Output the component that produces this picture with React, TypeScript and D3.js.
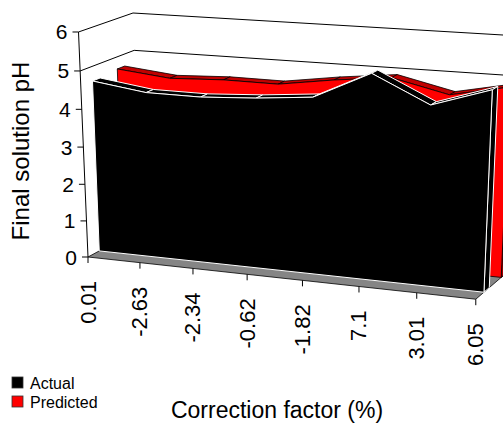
import React from "react";
import * as d3 from "d3";

// ---------- data ----------
const categories = ["0.01", "-2.63", "-2.34", "-0.62", "-1.82", "7.1", "3.01", "6.05"];
const actual = [4.62, 4.42, 4.41, 4.49, 4.62, 5.32, 4.64, 5.12];
const predicted = [4.68, 4.53, 4.59, 4.58, 4.79, 4.95, 4.62, 4.92];
const yTicks = [0, 1, 2, 3, 4, 5, 6];
const gridValues = [5, 6];
const seriesNames = ["Actual", "Predicted"];

// ---------- layout: 3D perspective (vanishing points) ----------
const W = 503;
const H = 424;
const ORIGIN: [number, number] = [88, 257];
const VPX: [number, number, number] = [-4905, -286.5, -0.07207];
const VPY: [number, number, number] = [289, 5021, -0.0451];
const VPZ: [number, number, number] = [1271.6, -383.6, 0.0457];

function col(vp: [number, number, number]) {
  return [vp[0] * vp[2], vp[1] * vp[2], vp[2]];
}
const cX = col(VPX);
const cY = col(VPY);
const cZ = col(VPZ);

function project(X: number, Y: number, Z: number): [number, number] {
  const hx = ORIGIN[0] + X * cX[0] + Y * cY[0] + Z * cZ[0];
  const hy = ORIGIN[1] + X * cX[1] + Y * cY[1] + Z * cZ[1];
  const hw = 1 + X * cX[2] + Y * cY[2] + Z * cZ[2];
  return [hx / hw, hy / hw];
}

const xScale = d3.scalePoint<string>().domain(categories).range([0, 1]);
const yScale = d3.scaleLinear().domain([0, 6]).range([0, 1]);

const line = d3.line<[number, number]>();
const poly = (pts: [number, number][]) => line(pts) + "Z";

type SeriesStyle = {
  z0: number;
  z1: number;
  front: string;
  top: string;
  side: string;
  stroke: string;
  sw: number;
};

function Series({ values, st }: { values: number[]; st: SeriesStyle }) {
  const X = categories.map((c) => xScale(c) as number);
  const Y = values.map((v) => yScale(v));
  const n = values.length;
  const tops = [];
  for (let i = 0; i < n - 1; i++) {
    tops.push(
      poly([
        project(X[i], Y[i], st.z0),
        project(X[i + 1], Y[i + 1], st.z0),
        project(X[i + 1], Y[i + 1], st.z1),
        project(X[i], Y[i], st.z1),
      ])
    );
  }
  const cap = poly([
    project(X[n - 1], 0, st.z0),
    project(X[n - 1], Y[n - 1], st.z0),
    project(X[n - 1], Y[n - 1], st.z1),
    project(X[n - 1], 0, st.z1),
  ]);
  const frontPts: [number, number][] = X.map((x, i) => project(x, Y[i], st.z0));
  frontPts.push(project(X[n - 1], 0, st.z0));
  frontPts.push(project(X[0], 0, st.z0));
  return (
    <g stroke={st.stroke} strokeWidth={st.sw} strokeLinejoin="round">
      {tops.map((d, i) => (
        <path key={i} d={d} fill={st.top} />
      ))}
      <path d={cap} fill={st.side} />
      <path d={poly(frontPts)} fill={st.front} />
    </g>
  );
}

export default function App() {
  const font = "'Liberation Sans', Arial, sans-serif";
  const backWall = poly([project(0, 0, 1), project(1, 0, 1), project(1, 1, 1), project(0, 1, 1)]);
  const leftWall = poly([project(0, 0, 0), project(0, 0, 1), project(0, 1, 1), project(0, 1, 0)]);
  const floor = poly([project(0, 0, 0), project(1, 0, 0), project(1, 0, 1), project(0, 0, 1)]);
  const yAxis0 = project(0, 0, 0);
  const yAxis1 = project(0, 1, 0);

  return (
    <svg
      width={W}
      height={H}
      style={{ position: "absolute", left: 0, top: 0, background: "#fff" }}
      fontFamily={font}
    >
      {/* walls */}
      <path d={backWall} fill="#fff" />
      <path d={leftWall} fill="#fff" />
      {gridValues.map((v) => {
        const y = yScale(v);
        return (
          <path
            key={v}
            d={line([project(0, y, 0), project(0, y, 1), project(1, y, 1)]) || ""}
            fill="none"
            stroke="#000"
            strokeWidth={1}
          />
        );
      })}
      {/* floor */}
      <path d={floor} fill="#858585" stroke="#000" strokeWidth={0.8} />

      {/* series: back first */}
      <Series
        values={predicted}
        st={{ z0: 0.67, z1: 0.81, front: "#ff0000", top: "#c00000", side: "#a00000", stroke: "#000", sw: 0.8 }}
      />
      <Series
        values={actual}
        st={{ z0: 0.21, z1: 0.35, front: "#000", top: "#000", side: "#000", stroke: "#fff", sw: 1 }}
      />

      {/* y axis */}
      <line x1={yAxis0[0]} y1={yAxis0[1]} x2={yAxis1[0]} y2={yAxis1[1]} stroke="#000" strokeWidth={1} />
      {yTicks.map((t) => {
        const p = project(0, yScale(t), 0);
        return (
          <g key={t}>
            <line x1={p[0] - 6} y1={p[1]} x2={p[0]} y2={p[1]} stroke="#000" strokeWidth={1} />
            <text x={p[0] - 11} y={p[1]} textAnchor="end" dominantBaseline="central" fontSize={21}>
              {t}
            </text>
          </g>
        );
      })}

      {/* x axis ticks and labels */}
      {categories.map((c) => {
        const p = project(xScale(c) as number, 0, 0);
        return (
          <g key={c}>
            <line x1={p[0]} y1={p[1]} x2={p[0]} y2={p[1] + 6} stroke="#000" strokeWidth={1} />
            <text
              transform={`translate(${p[0]},${p[1] + 24}) rotate(-90)`}
              textAnchor="end"
              dominantBaseline="central"
              fontSize={22}
            >
              {c}
            </text>
          </g>
        );
      })}

      {/* titles */}
      <text x={277} y={418} textAnchor="middle" fontSize={23}>
        Correction factor (%)
      </text>
      <text transform="translate(29,151) rotate(-90)" textAnchor="middle" fontSize={24}>
        Final solution pH
      </text>

      {/* legend */}
      {seriesNames.map((s, i) => (
        <g key={s} transform={`translate(12,${377 + i * 19})`}>
          <rect width={11} height={11} fill={i === 0 ? "#000" : "#ff0000"} stroke="#333" strokeWidth={0.8} />
          <text x={18} y={11.5} fontSize={16}>
            {s}
          </text>
        </g>
      ))}
    </svg>
  );
}
